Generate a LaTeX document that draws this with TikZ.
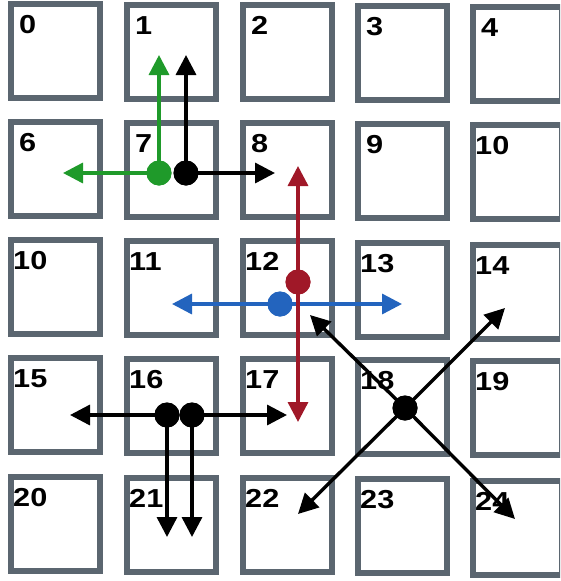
\documentclass[tikz,border=0pt]{standalone}
\usepackage{fontspec}
\newfontfamily\labfont{Liberation Sans}[FakeStretch=1.18]
\usetikzlibrary{arrows.meta}
\definecolor{boxgray}{HTML}{5B6670}
\definecolor{mygreen}{HTML}{1F9A2A}
\definecolor{myred}{HTML}{A01828}
\definecolor{myblue}{HTML}{2364BE}
\begin{document}
\begin{tikzpicture}[x=1pt,y=-1pt,
  cell/.style={draw=boxgray, line width=6pt, rectangle, minimum width=89pt, minimum height=93.5pt, inner sep=0pt, fill=white},
  lab/.style={anchor=north west, inner sep=0pt, font=\labfont\bfseries\fontsize{26}{26}\selectfont},
  dot/.style={circle, fill=#1, inner sep=0pt, minimum size=25pt},
  arr/.style={draw=#1, line width=3.4pt, -{Triangle[length=20pt,width=20pt]}}]
\useasboundingbox (0,0) rectangle (560,581);
\clip (0,0) rectangle (560,581);
% boxes
\node[cell] (c00) at (55.5,51) {};
\node[cell] (c01) at (171.5,52) {};
\node[cell] (c02) at (287.5,52) {};
\node[cell] (c03) at (402.5,53) {};
\node[cell] (c04) at (517.5,54) {};
\node[cell] (c10) at (55.5,169) {};
\node[cell] (c11) at (171.5,170) {};
\node[cell] (c12) at (287.5,170) {};
\node[cell] (c13) at (402.5,171) {};
\node[cell] (c14) at (517.5,172) {};
\node[cell] (c20) at (55.5,287) {};
\node[cell] (c21) at (171.5,288) {};
\node[cell] (c22) at (287.5,288) {};
\node[cell] (c23) at (402.5,290) {};
\node[cell] (c24) at (517.5,292) {};
\node[cell] (c30) at (55.5,405) {};
\node[cell] (c31) at (171.5,406) {};
\node[cell] (c32) at (287.5,406) {};
\node[cell] (c33) at (402.5,407) {};
\node[cell] (c34) at (517.5,408) {};
\node[cell] (c40) at (55.5,524) {};
\node[cell] (c41) at (171.5,525) {};
\node[cell] (c42) at (287.5,525) {};
\node[cell] (c43) at (402.5,526) {};
\node[cell] (c44) at (517.5,528) {};
% labels
\foreach \n/\t in {c00/0,c01/1,c02/2,c03/3,c04/4,c10/6,c11/7,c12/8,c13/9}
  \node[lab] (l\n) at ([shift={(11,14)}]\n.north west) {\t};
\foreach \n/\t in {c14/10,c20/10,c21/11,c22/12,c23/13,c24/14,c30/15,c31/16,c32/17,c33/18,c34/19,c40/20,c41/21,c42/22,c43/23,c44/24}
  \node[lab] (l\n) at ([shift={(5,14)}]\n.north west) {\t};
% dots
\node[dot=mygreen] (g7) at (159,173) {};
\node[dot=black] (k7) at (186,173) {};
\node[dot=myblue] (b12) at (280,304) {};
\node[dot=myred] (r12) at (298,282) {};
\node[dot=black] (k16a) at (167,415) {};
\node[dot=black] (k16b) at (192,415) {};
\node[dot=black] (k18) at (405,408) {};
% tips
\coordinate (gup) at (159,55);
\coordinate (gleft) at (63,173);
\coordinate (kup) at (186,55);
\coordinate (kright) at (275,173);
\coordinate (bleft) at (172,304);
\coordinate (bright) at (402,304);
\coordinate (rup) at (298,166);
\coordinate (rdown) at (298,422);
\coordinate (k16left) at (70,415);
\coordinate (k16right) at (287,415);
\coordinate (k16down1) at (167,537);
\coordinate (k16down2) at (192,537);
\coordinate (k18ul) at (310,315);
\coordinate (k18ur) at (505,308);
\coordinate (k18dl) at (298,514);
\coordinate (k18dr) at (515,519);
% arrows
\draw[arr=mygreen] (g7.center) -- (gup);
\draw[arr=mygreen] (g7.center) -- (gleft);
\draw[arr=black] (k7.center) -- (kup);
\draw[arr=black] (k7.center) -- (kright);
\draw[arr=myblue] (b12.center) -- (bleft);
\draw[arr=myblue] (b12.center) -- (bright);
\node[dot=myblue] at (b12) {};
\draw[arr=myred] (r12.center) -- (rup);
\draw[arr=myred] (r12.center) -- (rdown);
\draw[arr=black] (k16a.center) -- (k16left);
\draw[arr=black] (k16b.center) -- (k16right);
\draw[arr=black] (k16a.center) -- (k16down1);
\draw[arr=black] (k16b.center) -- (k16down2);
\draw[arr=black] (k18.center) -- (k18ul);
\draw[arr=black] (k18.center) -- (k18ur);
\draw[arr=black] (k18.center) -- (k18dl);
\draw[arr=black] (k18.center) -- (k18dr);
% redraw dots on top
\node[dot=mygreen] at (g7) {};
\node[dot=black] at (k7) {};
\node[dot=myred] at (r12) {};
\node[dot=black] at (k16a) {};
\node[dot=black] at (k16b) {};
\node[dot=black] at (k18) {};
\end{tikzpicture}
\end{document}
